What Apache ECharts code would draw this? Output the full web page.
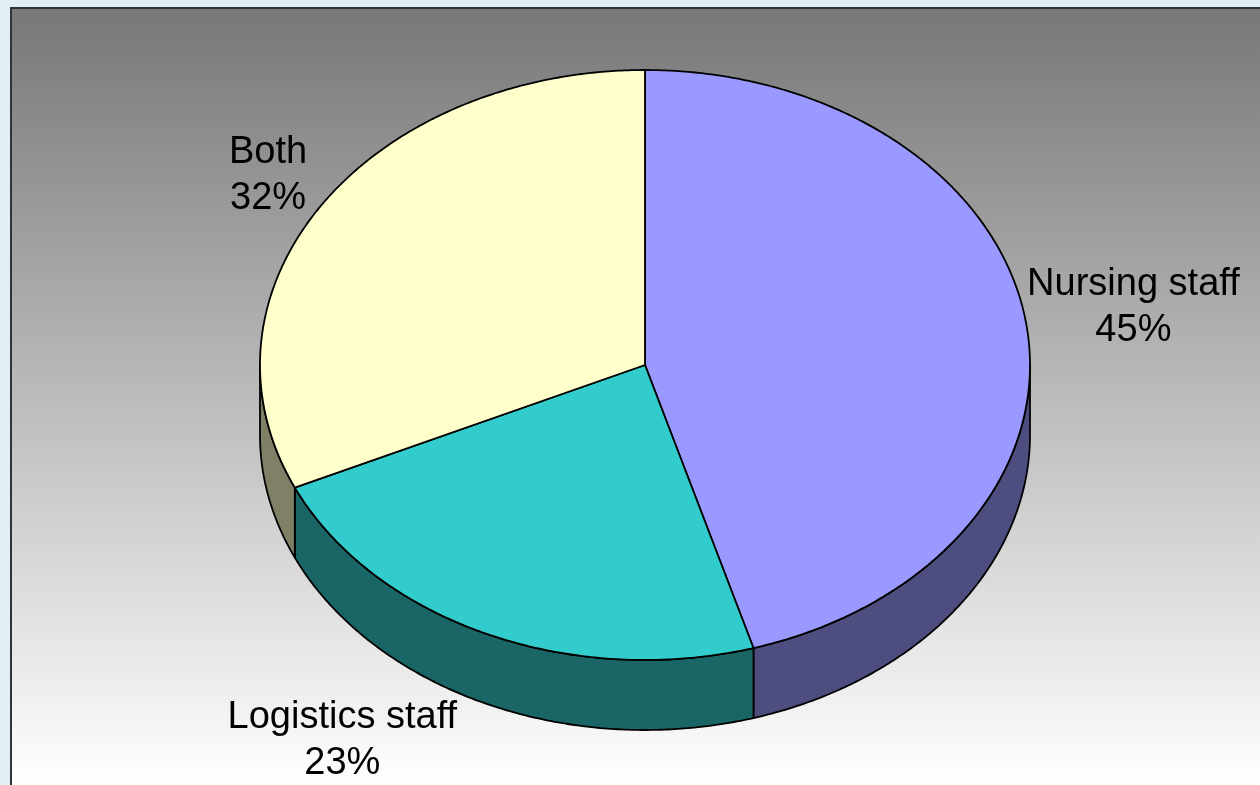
<!DOCTYPE html>
<html>
<head>
<meta charset="utf-8">
<script src="https://cdn.jsdelivr.net/npm/echarts@6/dist/echarts.min.js"></script>
<style>
  html, body { margin: 0; padding: 0; background: #e1eef4; }
  #chart { width: 1260px; height: 785px; }
</style>
</head>
<body>
<div id="chart"></div>
<script>
// Staff groups (respondent counts), clockwise from 12 o'clock
const categories = ['Nursing staff', 'Logistics staff', 'Both'];
const counts = [50, 25, 35];
const topColors = ['#9999ff', '#33cccc', '#ffffcc'];
const sideColors = ['#4d4d80', '#1a6666', '#808066'];
// per-label fine placement relative to the slice's rim anchor
const labelNudge = [[-3, -16], [-24, -9], [-10, 16]];

const total = counts.reduce((a, b) => a + b, 0);
const starts = [];
let acc = 0;
counts.forEach(v => { starts.push(acc); acc += v; });

// Tilted disc geometry (top face ellipse + rim depth)
const PIE = { cx: 645, cy: 365, rx: 385, ry: 295, depth: 70 };
const FONT_SIZE = 38;
const FONT_FAMILY = '"Liberation Sans", Arial, sans-serif';
const LINE_H = 46;
const LABEL_GAP = 4;

function pt(deg, dy) {
  const r = deg * Math.PI / 180;
  return [PIE.cx + PIE.rx * Math.sin(r), PIE.cy - PIE.ry * Math.cos(r) + (dy || 0)];
}
function arc(a1, a2, dy) {
  const pts = [];
  const n = Math.max(2, Math.ceil(Math.abs(a2 - a1) * 2));
  for (let i = 0; i <= n; i++) pts.push(pt(a1 + (a2 - a1) * i / n, dy));
  return pts;
}

const measureCtx = document.createElement('canvas').getContext('2d');
measureCtx.font = FONT_SIZE + 'px ' + FONT_FAMILY;
function textWidth(lines) {
  return Math.max.apply(null, lines.map(s => measureCtx.measureText(s).width));
}

function renderSlice(params, api) {
  const i = params.dataIndex;
  const value = api.value(0);
  const a1 = starts[i] / total * 360;
  const a2 = (starts[i] + value) / total * 360;
  const children = [];
  const edgeStyle = { stroke: '#000', lineWidth: 1.8, lineJoin: 'round' };

  // front rim: the part of the slice between 90° and 270° faces the viewer
  const b1 = Math.max(a1, 90), b2 = Math.min(a2, 270);
  if (b2 > b1) {
    const pts = arc(b1, b2, 0).concat(arc(b2, b1, PIE.depth));
    children.push({
      type: 'polygon',
      shape: { points: pts },
      style: Object.assign({ fill: sideColors[i] }, edgeStyle)
    });
  }
  // top face
  children.push({
    type: 'polygon',
    shape: { points: [[PIE.cx, PIE.cy]].concat(arc(a1, a2, 0)) },
    style: Object.assign({ fill: topColors[i] }, edgeStyle)
  });

  // outside label anchored at the slice's mid-angle
  const mid = (a1 + a2) / 2;
  const s = Math.sin(mid * Math.PI / 180), c = Math.cos(mid * Math.PI / 180);
  const edge = pt(mid, c < 0 ? PIE.depth : 0);
  const lines = [categories[i], Math.round(value / total * 100) + '%'];
  const w = textWidth(lines);
  const h = lines.length * LINE_H;
  const x = s >= 0 ? edge[0] + LABEL_GAP + w / 2 : edge[0] - LABEL_GAP - w / 2;
  const top = c > 0.3 ? edge[1] - h : (c < -0.3 ? edge[1] : edge[1] - h / 2);
  children.push({
    type: 'text',
    x: x + labelNudge[i][0],
    y: top + labelNudge[i][1],
    style: {
      text: lines.join('\n'),
      fill: '#000',
      fontSize: FONT_SIZE,
      fontFamily: FONT_FAMILY,
      lineHeight: LINE_H,
      align: 'center',
      verticalAlign: 'top'
    }
  });
  return { type: 'group', children: children };
}

const chart = echarts.init(document.getElementById('chart'), null, { renderer: 'canvas' });
chart.setOption({
  backgroundColor: '#e1eef4',
  animation: false,
  graphic: [{
    type: 'rect',
    z: 0,
    shape: { x: 11, y: 8, width: 1270, height: 800 },
    style: {
      fill: {
        type: 'linear', x: 0, y: 0, x2: 0, y2: 1,
        colorStops: [{ offset: 0, color: '#777777' }, { offset: 0.97, color: '#ffffff' }, { offset: 1, color: '#ffffff' }]
      },
      stroke: '#333333',
      lineWidth: 2
    }
  }],
  series: [{
    type: 'custom',
    coordinateSystem: 'none',
    z: 5,
    data: counts,
    renderItem: renderSlice
  }]
});
</script>
</body>
</html>
